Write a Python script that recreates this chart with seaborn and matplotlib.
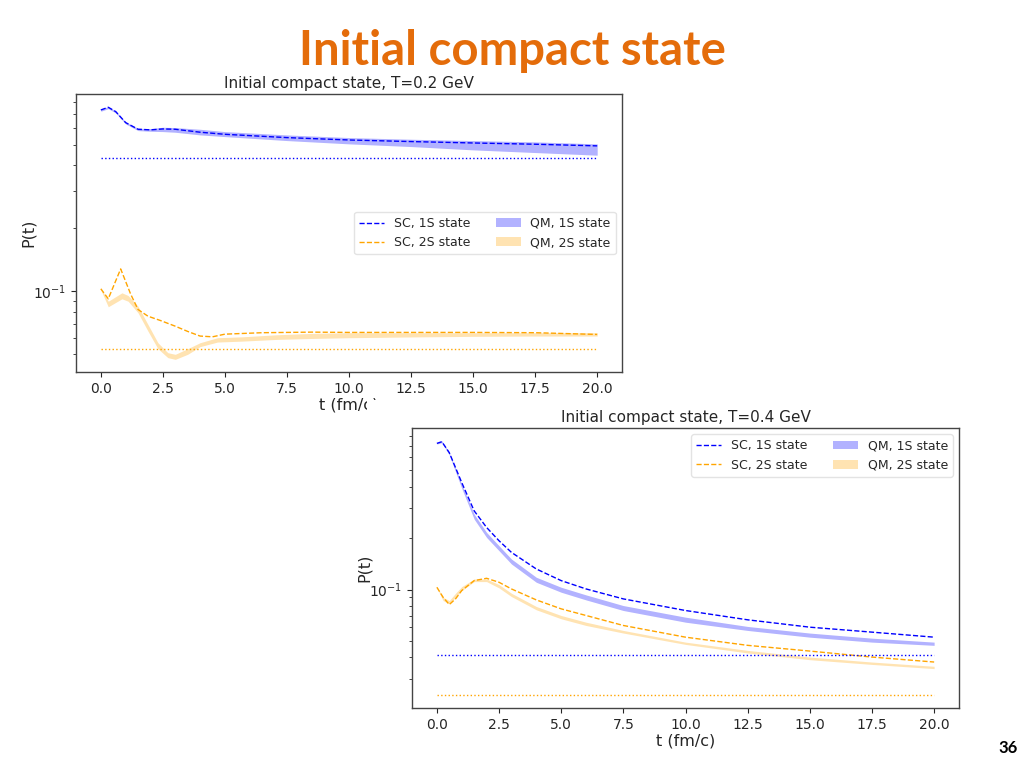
import numpy as np
import matplotlib
matplotlib.use("Agg")
import matplotlib.pyplot as plt
import seaborn as sns
from matplotlib.patches import Rectangle
from matplotlib.ticker import NullFormatter

# ---------------- data ----------------
# T = 0.2 GeV, 1S
T02_T_1S = [0, 0.3, 0.6, 1.0, 1.5, 2.0, 2.5, 3.0, 4.0, 5.0, 7.5, 10, 12.5, 15, 17.5, 20]
T02_SC_1S = [0.733, 0.755, 0.720, 0.638, 0.593, 0.589, 0.595, 0.593, 0.574, 0.561,
             0.541, 0.527, 0.518, 0.510, 0.503, 0.494]
T02_QM_1S_LO = [0.7225, 0.7437, 0.7093, 0.6287, 0.5843, 0.5800, 0.5779, 0.5737, 0.5572, 0.5470,
                0.5236, 0.5050, 0.4903, 0.4727, 0.4591, 0.4459]
T02_QM_1S_HI = [0.7385, 0.7603, 0.7252, 0.6427, 0.5995, 0.5973, 0.6061, 0.6039, 0.5929, 0.5779,
                0.5572, 0.5412, 0.5314, 0.5236, 0.5161, 0.5050]
# T = 0.2 GeV, 2S
T02_T_SC_2S = [0, 0.3, 0.8, 1.2, 1.5, 1.9, 2.4, 3.0, 3.5, 4.0, 4.5, 5.0, 6.5, 8.5,
               10, 12.5, 15, 17.5, 20]
T02_SC_2S = [0.1027, 0.0920, 0.1278, 0.097, 0.0818, 0.0760, 0.0725, 0.0681, 0.0643, 0.0611,
             0.0606, 0.0624, 0.0634, 0.0638, 0.0636, 0.0636, 0.0636, 0.0634, 0.0622]
T02_T_QM_2S = [0, 0.3, 0.85, 1.1, 1.5, 1.9, 2.3, 2.7, 3.0, 3.5, 4.0, 4.7, 5.7, 7.1, 8.5,
               10, 12.5, 15, 17.5, 20]
T02_QM_2S_LO = [0.1015, 0.0843, 0.0920, 0.0896, 0.0789, 0.0645, 0.0532, 0.0482, 0.0473, 0.0500,
                0.0544, 0.0572, 0.0578, 0.0589, 0.0595, 0.0600, 0.0605, 0.0609, 0.0611, 0.0611]
T02_QM_2S_HI = [0.1040, 0.0896, 0.0983, 0.0954, 0.0848, 0.0694, 0.0568, 0.0509, 0.0500, 0.0532,
                0.0568, 0.0600, 0.0606, 0.0620, 0.0629, 0.0634, 0.0634, 0.0634, 0.0634, 0.0634]
T02_EQ_1S = 0.4315
T02_EQ_2S = 0.0528

# T = 0.4 GeV, 1S
T04_T_1S = [0, 0.2, 0.5, 1.0, 1.5, 2.0, 2.5, 3.0, 4.0, 5.0, 6.0, 7.5, 10, 12.5, 15, 17.5, 20]
T04_SC_1S = [0.7205, 0.7369, 0.6356, 0.4244, 0.2897, 0.2315, 0.1934, 0.1653, 0.1321, 0.1129,
             0.1009, 0.0882, 0.0754, 0.0665, 0.0602, 0.0563, 0.0526]
T04_QM_1S_LO = [0.7141, 0.7271, 0.6159, 0.3930, 0.2590, 0.2023, 0.1691, 0.1413, 0.1104, 0.0965,
                0.0870, 0.0754, 0.0644, 0.0576, 0.0526, 0.0492, 0.0471]
T04_QM_1S_HI = [0.7271, 0.7468, 0.6356, 0.4149, 0.2770, 0.2164, 0.1808, 0.1511, 0.1181, 0.1032,
                0.0931, 0.0806, 0.0689, 0.0608, 0.0556, 0.0519, 0.0492]
# T = 0.4 GeV, 2S
T04_T_2S = [0, 0.25, 0.5, 0.75, 1.0, 1.5, 2.0, 2.5, 3.0, 4.0, 5.0, 6.0, 7.5, 10, 12.5, 15, 17.5, 20]
T04_SC_2S = [0.1032, 0.0902, 0.0817, 0.0882, 0.0987, 0.1129, 0.1165, 0.1104, 0.1009, 0.0870,
             0.0771, 0.0705, 0.0616, 0.0526, 0.0471, 0.0436, 0.0402, 0.0376]
T04_QM_2S_LO = [0.1023, 0.0862, 0.0825, 0.0902, 0.0987, 0.1114, 0.1114, 0.1023, 0.0910, 0.0761,
                0.0674, 0.0616, 0.0556, 0.0477, 0.0425, 0.0388, 0.0364, 0.0344]
T04_QM_2S_HI = [0.1041, 0.0902, 0.0862, 0.0952, 0.1041, 0.1154, 0.1154, 0.1070, 0.0952, 0.0796,
                0.0705, 0.0644, 0.0576, 0.0492, 0.0440, 0.0402, 0.0376, 0.0355]
T04_EQ_1S = 0.0411
T04_EQ_2S = 0.0240

BLUE = 'blue'
ORANGE = 'orange'

sns.set_style('ticks')
plt.rcParams['font.family'] = ['DejaVu Sans']
plt.rcParams['axes.edgecolor'] = '#444444'
plt.rcParams['axes.linewidth'] = 1.0


def draw_panel(ax, title, t1, sc1, t1q, lo1, hi1, t2, sc2, t2q, lo2, hi2, eq1, eq2, legend_loc):
    sns.lineplot(x=t1, y=sc1, ax=ax, color=BLUE, linestyle='--', linewidth=1.0,
                 label='SC, 1S state')
    sns.lineplot(x=t2, y=sc2, ax=ax, color=ORANGE, linestyle='--', linewidth=1.0,
                 label='SC, 2S state')
    ax.fill_between(t1q, lo1, hi1, color=BLUE, alpha=0.3, linewidth=0, label='QM, 1S state')
    ax.fill_between(t2q, lo2, hi2, color=ORANGE, alpha=0.3, linewidth=0, label='QM, 2S state')
    ax.hlines(eq1, t1[0], t1[-1], color=BLUE, linestyle=':', linewidth=1.0)
    ax.hlines(eq2, t2[0], t2[-1], color=ORANGE, linestyle=':', linewidth=1.0)

    ax.set_yscale('log')
    ax.yaxis.set_minor_formatter(NullFormatter())
    ax.set_title(title, fontsize=11, pad=4)
    ax.set_xlabel('t (fm/c)', fontsize=11.5, labelpad=1)
    ax.set_ylabel('P(t)', fontsize=11.5, labelpad=-2)
    ax.tick_params(labelsize=10)
    for s in ax.spines.values():
        s.set_visible(True)

    h, l = ax.get_legend_handles_labels()
    ax.legend(h, l, ncol=2, loc=legend_loc, fontsize=9, frameon=True,
              edgecolor='#dddddd', framealpha=0.8, labelspacing=0.5)


fig = plt.figure(figsize=(10.24, 7.68), dpi=100)

fig.text(0.5, 0.933, 'Initial compact state', ha='center', va='center',
         fontsize=34, fontweight='bold', color='#E46C0A', family=['Lato', 'DejaVu Sans'])
fig.text(0.984, 0.026, '36', ha='center', va='center', fontsize=12,
         fontweight='bold', color='black', family=['Lato', 'DejaVu Sans'])

ax1 = fig.add_axes([76 / 1024, 1 - 372 / 768, 546 / 1024, 278 / 768])
draw_panel(ax1, 'Initial compact state, T=0.2 GeV',
           T02_T_1S, T02_SC_1S, T02_T_1S, T02_QM_1S_LO, T02_QM_1S_HI,
           T02_T_SC_2S, T02_SC_2S, T02_T_QM_2S, T02_QM_2S_LO, T02_QM_2S_HI,
           T02_EQ_1S, T02_EQ_2S, 'center right')

# second screenshot pasted on top hides the end of the first x label
fig.add_artist(Rectangle((367 / 1024, 0), 1 - 367 / 1024, 1 - 400 / 768,
                         transform=fig.transFigure, facecolor='white',
                         edgecolor='none', zorder=0.5))

ax2 = fig.add_axes([412 / 1024, 1 - 708 / 768, 547 / 1024, 280 / 768])
ax2.set_zorder(1)
draw_panel(ax2, 'Initial compact state, T=0.4 GeV',
           T04_T_1S, T04_SC_1S, T04_T_1S, T04_QM_1S_LO, T04_QM_1S_HI,
           T04_T_2S, T04_SC_2S, T04_T_2S, T04_QM_2S_LO, T04_QM_2S_HI,
           T04_EQ_1S, T04_EQ_2S, 'upper right')

fig.savefig('out.png', dpi=100)
